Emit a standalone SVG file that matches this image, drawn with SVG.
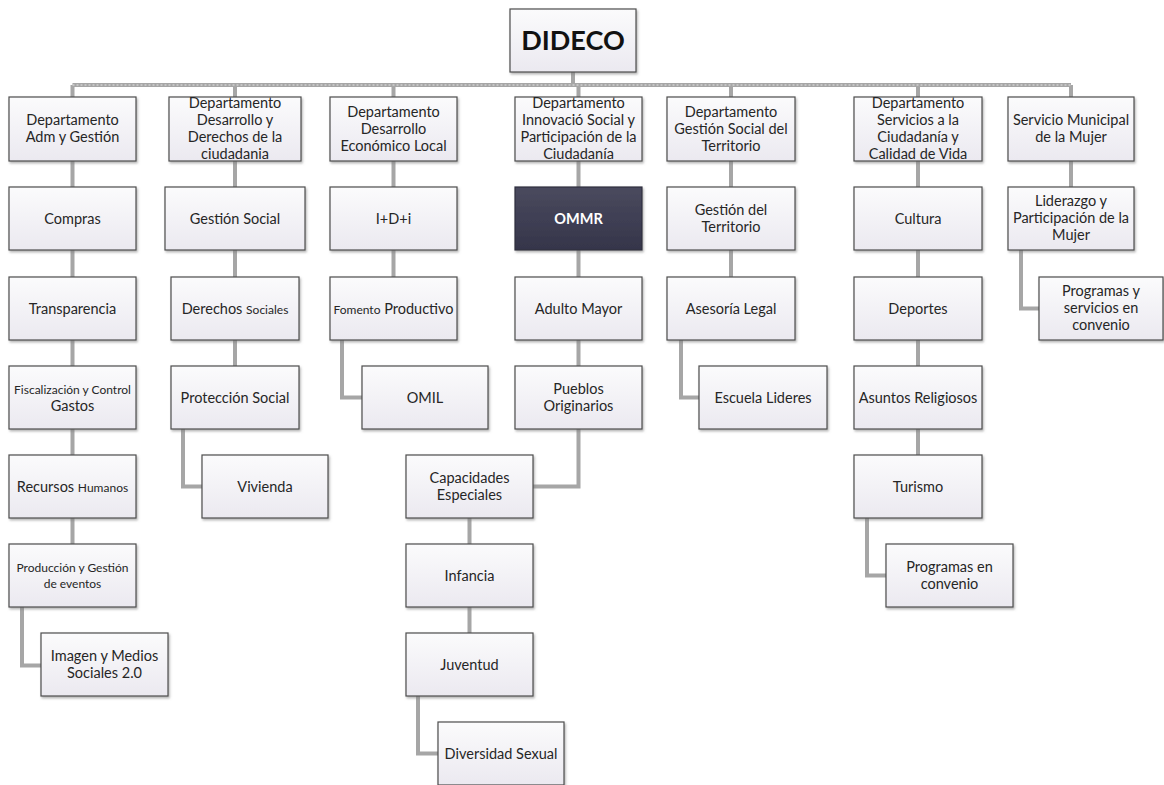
<svg xmlns="http://www.w3.org/2000/svg" width="1164" height="785" viewBox="0 0 1164 785">
<defs>
<linearGradient id="g" x1="0" y1="0" x2="0" y2="1">
<stop offset="0" stop-color="#fbfbfc"/>
<stop offset="1" stop-color="#ebe9f0"/>
</linearGradient>
<linearGradient id="gd" x1="0" y1="0" x2="0" y2="1">
<stop offset="0" stop-color="#4a4a5e"/>
<stop offset="1" stop-color="#35354a"/>
</linearGradient>
<filter id="sh" x="-10%" y="-10%" width="120%" height="130%">
<feDropShadow dx="1.2" dy="1.8" stdDeviation="0.8" flood-color="#777" flood-opacity="0.55"/>
</filter>
</defs>
<style>
.box{fill:url(#g);stroke:#4d4d4d;stroke-width:1.2;filter:url(#sh)}
.dark{fill:url(#gd);stroke:#2e2e3e;stroke-width:1.2;filter:url(#sh)}
.t{font-family:Lato,"Liberation Sans",sans-serif;font-size:14.5px;fill:#262626;text-anchor:middle}
.s{font-size:12px}
.w{fill:#ffffff;font-weight:bold}
.big{font-size:27px;font-weight:bold;fill:#111}
.conn{fill:none;stroke:#a6a6a6;stroke-width:4}
.conn2{fill:none;stroke:#cfcfcf;stroke-width:1.5;stroke-dasharray:2 2}
</style>
<rect width="1164" height="785" fill="#ffffff"/>
<g id="connectors">
<path class="conn" d="M573 72V85 M72.5 85H1071 M72.5 85V97 M235 85V97 M393.5 85V97 M578.5 85V97 M731 85V97 M918 85V97 M1071 85V97
M72.5 161V187 M72.5 250V277 M72.5 340V366 M72.5 429V455 M72.5 518V544 M22 607V665.5H41
M235 161V187 M235 250V277 M235 340V366 M183 429V486.5H202
M393.5 161V187 M393.5 250V277 M342 340V397.5H362
M578.5 161V187 M578.5 250V277 M578.5 340V366 M578.5 429V486.5H533 M469.5 518V544 M469.5 607V633 M418 696V753.5H438
M731 161V187 M731 250V277 M681 340V397.5H699
M918 161V187 M918 250V277 M918 340V366 M918 429V455 M867 518V575.5H886
M1071 161V187 M1021 250V308.5H1039"/>
<path class="conn2" d="M72.5 85H1071"/>
</g>
<g id="dideco"><rect class="box" x="510" y="9" width="126" height="63"/><text class="t big" x="573" y="50">DIDECO</text></g>

<g id="deptA"><rect class="box" x="9" y="97" width="127" height="64"/><text class="t" x="72.5" y="125"><tspan x="72.5">Departamento</tspan><tspan x="72.5" dy="17">Adm y Gestión</tspan></text></g>
<g id="deptB"><rect class="box" x="169" y="97" width="132" height="64"/><text class="t" x="235" y="108"><tspan x="235">Departamento</tspan><tspan x="235" dy="17">Desarrollo y</tspan><tspan x="235" dy="17">Derechos de la</tspan><tspan x="235" dy="17">ciudadania</tspan></text></g>
<g id="deptC"><rect class="box" x="330" y="97" width="127" height="64"/><text class="t" x="393.5" y="117"><tspan x="393.5">Departamento</tspan><tspan x="393.5" dy="17">Desarrollo</tspan><tspan x="393.5" dy="17">Económico Local</tspan></text></g>
<g id="deptD"><rect class="box" x="515" y="97" width="127" height="64"/><text class="t" x="578.5" y="108"><tspan x="578.5">Departamento</tspan><tspan x="578.5" dy="17">Innovació Social y</tspan><tspan x="578.5" dy="17">Participación de la</tspan><tspan x="578.5" dy="17">Ciudadanía</tspan></text></g>
<g id="deptE"><rect class="box" x="667" y="97" width="128" height="64"/><text class="t" x="731" y="117"><tspan x="731">Departamento</tspan><tspan x="731" dy="17">Gestión Social del</tspan><tspan x="731" dy="17">Territorio</tspan></text></g>
<g id="deptF"><rect class="box" x="854" y="97" width="128" height="64"/><text class="t" x="918" y="108"><tspan x="918">Departamento</tspan><tspan x="918" dy="17">Servicios a la</tspan><tspan x="918" dy="17">Ciudadanía y</tspan><tspan x="918" dy="17">Calidad de Vida</tspan></text></g>
<g id="deptG"><rect class="box" x="1008" y="97" width="126" height="64"/><text class="t" x="1071" y="125"><tspan x="1071">Servicio Municipal</tspan><tspan x="1071" dy="17">de la Mujer</tspan></text></g>

<g id="compras"><rect class="box" x="9" y="187" width="127" height="63"/><text class="t" x="72.5" y="223.5">Compras</text></g>
<g id="transparencia"><rect class="box" x="9" y="277" width="127" height="63"/><text class="t" x="72.5" y="313.5">Transparencia</text></g>
<g id="fiscalizacion"><rect class="box" x="9" y="366" width="127" height="63"/><text class="t" x="72.5" y="394"><tspan class="s" x="72.5">Fiscalización y Control</tspan><tspan x="72.5" dy="17">Gastos</tspan></text></g>
<g id="recursos"><rect class="box" x="9" y="455" width="127" height="63"/><text class="t" x="72.5" y="491.5">Recursos <tspan class="s">Humanos</tspan></text></g>
<g id="produccion"><rect class="box" x="9" y="544" width="127" height="63"/><text class="t s" x="72.5" y="572"><tspan x="72.5">Producción y Gestión</tspan><tspan x="72.5" dy="16">de eventos</tspan></text></g>
<g id="imagen"><rect class="box" x="41" y="633" width="127" height="63"/><text class="t" x="104.5" y="661"><tspan x="104.5">Imagen y Medios</tspan><tspan x="104.5" dy="17">Sociales 2.0</tspan></text></g>

<g id="gestionSocial"><rect class="box" x="165" y="187" width="140" height="63"/><text class="t" x="235" y="223.5">Gestión Social</text></g>
<g id="derechosSociales"><rect class="box" x="171" y="277" width="128" height="63"/><text class="t" x="235" y="313.5">Derechos <tspan class="s">Sociales</tspan></text></g>
<g id="proteccion"><rect class="box" x="171" y="366" width="128" height="63"/><text class="t" x="235" y="402.5">Protección Social</text></g>
<g id="vivienda"><rect class="box" x="202" y="455" width="126" height="63"/><text class="t" x="265" y="491.5">Vivienda</text></g>

<g id="idi"><rect class="box" x="330" y="187" width="127" height="63"/><text class="t" x="393.5" y="223.5">I+D+i</text></g>
<g id="fomento"><rect class="box" x="330" y="277" width="127" height="63"/><text class="t" x="393.5" y="313.5"><tspan class="s">Fomento</tspan> Productivo</text></g>
<g id="omil"><rect class="box" x="362" y="366" width="126" height="63"/><text class="t" x="425" y="402.5">OMIL</text></g>

<g id="ommr"><rect class="dark" x="515" y="187" width="127" height="63"/><text class="t w" x="578.5" y="223.5">OMMR</text></g>
<g id="adultoMayor"><rect class="box" x="515" y="277" width="127" height="63"/><text class="t" x="578.5" y="313.5">Adulto Mayor</text></g>
<g id="pueblos"><rect class="box" x="515" y="366" width="127" height="63"/><text class="t" x="578.5" y="394"><tspan x="578.5">Pueblos</tspan><tspan x="578.5" dy="17">Originarios</tspan></text></g>
<g id="capacidades"><rect class="box" x="406" y="455" width="127" height="63"/><text class="t" x="469.5" y="483"><tspan x="469.5">Capacidades</tspan><tspan x="469.5" dy="17">Especiales</tspan></text></g>
<g id="infancia"><rect class="box" x="406" y="544" width="127" height="63"/><text class="t" x="469.5" y="580.5">Infancia</text></g>
<g id="juventud"><rect class="box" x="406" y="633" width="127" height="63"/><text class="t" x="469.5" y="669.5">Juventud</text></g>
<g id="diversidad"><rect class="box" x="438" y="722" width="126" height="63"/><text class="t" x="501" y="758.5">Diversidad Sexual</text></g>

<g id="gestionTerritorio"><rect class="box" x="667" y="187" width="128" height="63"/><text class="t" x="731" y="215"><tspan x="731">Gestión del</tspan><tspan x="731" dy="17">Territorio</tspan></text></g>
<g id="asesoria"><rect class="box" x="667" y="277" width="128" height="63"/><text class="t" x="731" y="313.5">Asesoría Legal</text></g>
<g id="escuela"><rect class="box" x="699" y="366" width="128" height="63"/><text class="t" x="763" y="402.5">Escuela Lideres</text></g>

<g id="cultura"><rect class="box" x="854" y="187" width="128" height="63"/><text class="t" x="918" y="223.5">Cultura</text></g>
<g id="deportes"><rect class="box" x="854" y="277" width="128" height="63"/><text class="t" x="918" y="313.5">Deportes</text></g>
<g id="asuntos"><rect class="box" x="854" y="366" width="128" height="63"/><text class="t" x="918" y="402.5">Asuntos Religiosos</text></g>
<g id="turismo"><rect class="box" x="854" y="455" width="128" height="63"/><text class="t" x="918" y="491.5">Turismo</text></g>
<g id="programasConvenio"><rect class="box" x="886" y="544" width="127" height="63"/><text class="t" x="949.5" y="572"><tspan x="949.5">Programas en</tspan><tspan x="949.5" dy="17">convenio</tspan></text></g>

<g id="liderazgo"><rect class="box" x="1008" y="187" width="126" height="63"/><text class="t" x="1071" y="206"><tspan x="1071">Liderazgo y</tspan><tspan x="1071" dy="17">Participación de la</tspan><tspan x="1071" dy="17">Mujer</tspan></text></g>
<g id="programasServicios"><rect class="box" x="1039" y="277" width="124" height="63"/><text class="t" x="1101" y="296"><tspan x="1101">Programas y</tspan><tspan x="1101" dy="17">servicios en</tspan><tspan x="1101" dy="17">convenio</tspan></text></g>
</svg>
